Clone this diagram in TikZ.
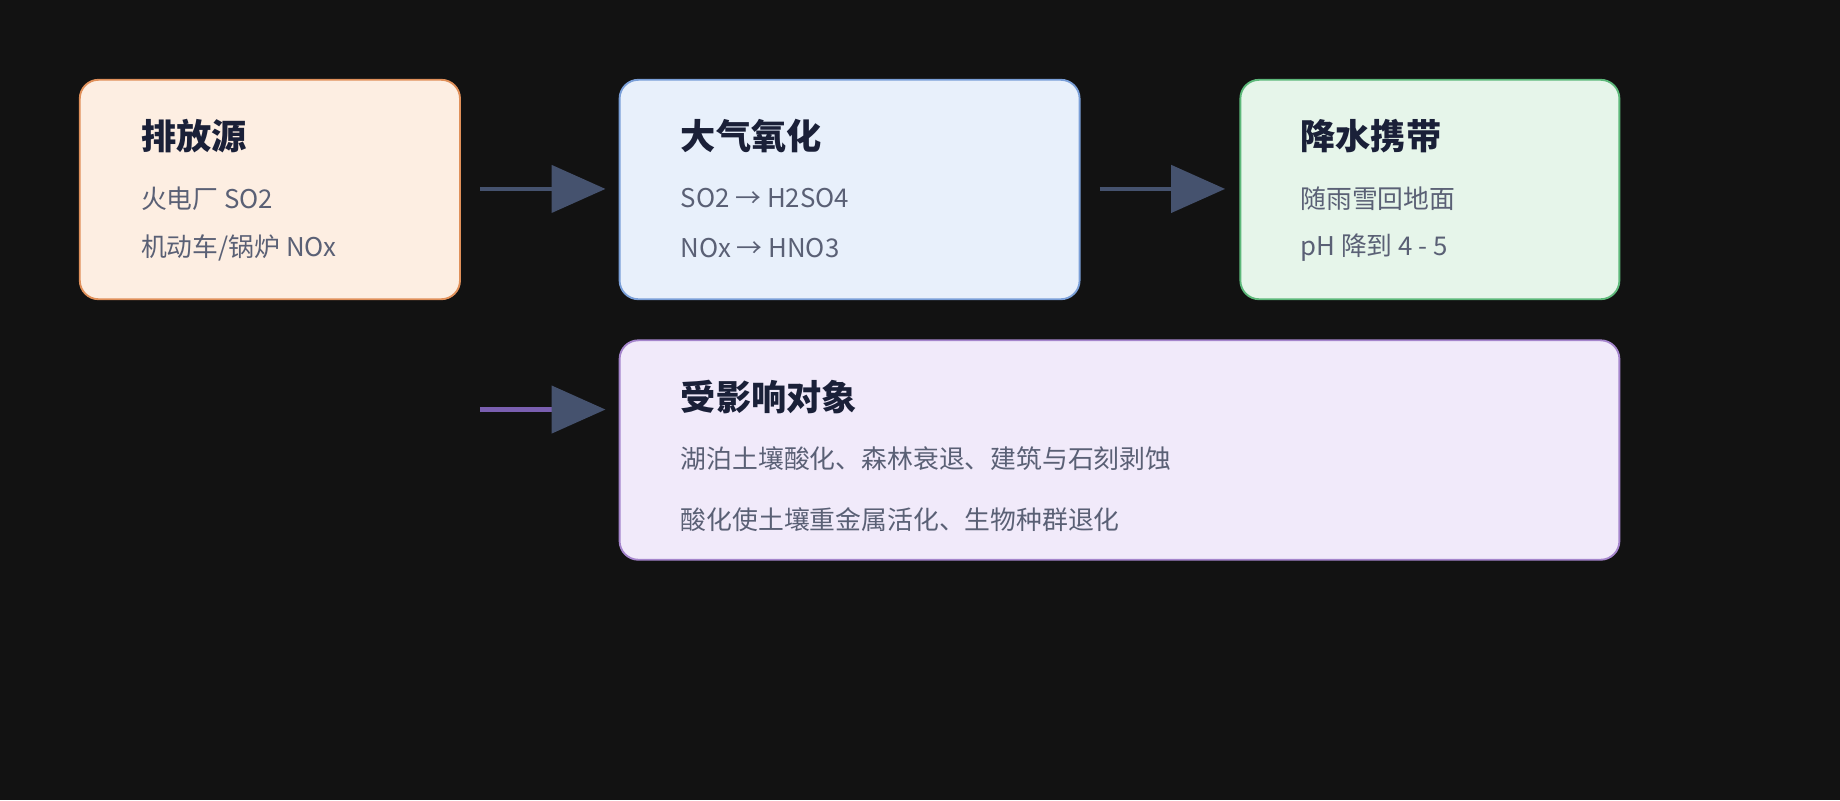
\documentclass[tikz,border=0pt]{standalone}
\usepackage{fontspec}
\setmainfont{Noto Sans CJK SC}
\usetikzlibrary{arrows.meta}
\definecolor{bg}{HTML}{121212}
\definecolor{ttl}{HTML}{1A2038}
\definecolor{bdy}{HTML}{5A6075}
\definecolor{hd}{HTML}{45526E}
\definecolor{pu}{HTML}{7A5FB0}
\definecolor{d1}{HTML}{E0905A}\definecolor{f1}{HTML}{FDEEE2}
\definecolor{d2}{HTML}{7A9FD8}\definecolor{f2}{HTML}{E8F0FB}
\definecolor{d3}{HTML}{5DB87A}\definecolor{f3}{HTML}{E6F5EA}
\definecolor{d4}{HTML}{A585CC}\definecolor{f4}{HTML}{F1EAFA}
\begin{document}
\begin{tikzpicture}[x=1pt,y=-1pt,
 box/.style={rounded corners=16pt,line width=1.6pt},
 ttl/.style={anchor=west,text=ttl,font=\fontsize{30}{32}\selectfont\bfseries,inner sep=0},
 bdy/.style={anchor=west,text=bdy,font=\fontsize{22}{24}\selectfont,inner sep=0},
 arr/.style={line width=4pt,-{Triangle[length=46pt,width=40pt,fill=hd,color=hd]}}]
\fill[bg] (0,0) rectangle (1568,682);
\useasboundingbox (0,0) rectangle (1568,682);
\draw[box,draw=d1,fill=f1] (68,68) rectangle (392,255);
\draw[box,draw=d2,fill=f2] (528,68) rectangle (920,255);
\draw[box,draw=d3,fill=f3] (1057,68) rectangle (1380,255);
\draw[box,draw=d4,fill=f4] (528,290) rectangle (1380,477);
\node[ttl] (t1) at (120,116) {排放源};
\node[bdy] (b11) at (120,169) {火电厂 SO2};
\node[bdy] (b12) at (120,211) {机动车/锅炉 NOx};
\node[ttl] (t2) at (580,116) {大气氧化};
\node[bdy] (b21) at (580,169) {SO2 → H2SO4};
\node[bdy] (b22) at (580,211) {NOx → HNO3};
\node[ttl] (t3) at (1108,116) {降水携带};
\node[bdy] (b31) at (1108,169) {随雨雪回地面};
\node[bdy] (b32) at (1108,211) {pH 降到 4 - 5};
\node[ttl] (t4) at (580,338) {受影响对象};
\node[bdy] (b41) at (580,391) {湖泊土壤酸化、森林衰退、建筑与石刻剥蚀};
\node[bdy] (b42) at (580,443) {酸化使土壤重金属活化、生物种群退化};
\coordinate (a1s) at (409,161); \coordinate (a1e) at (516,161);
\coordinate (a2s) at (937,161); \coordinate (a2e) at (1044,161);
\coordinate (a3s) at (409,349); \coordinate (a3e) at (516,349);
\draw[arr,hd] (a1s) -- (a1e);
\draw[arr,hd] (a2s) -- (a2e);
\draw[arr,pu] (a3s) -- (a3e);
\end{tikzpicture}
\end{document}
